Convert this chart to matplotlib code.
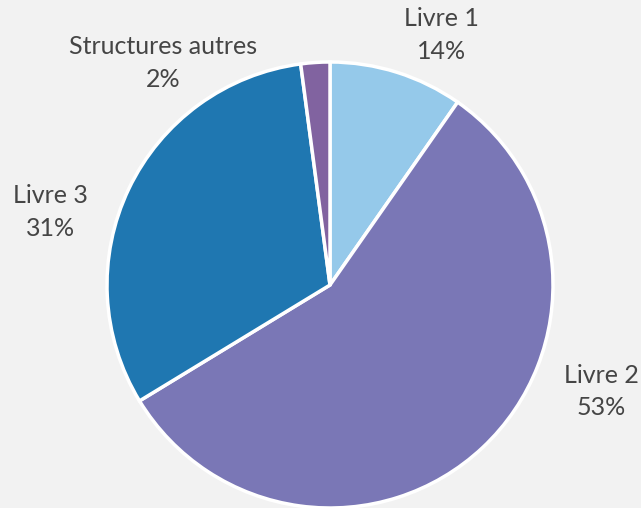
import matplotlib.pyplot as plt

# données (angles des secteurs)
categories = ['Livre 1', 'Livre 2', 'Livre 3', 'Structures autres']
values = [9.7, 56.6, 31.6, 2.1]
pct_labels = ['14%', '53%', '31%', '2%']
colors = ['#95c9ea', '#7a77b6', '#1f77b1', '#8163a0']

# positions des étiquettes (coordonnées des données)
label_pos = [(0.50, 1.12), (1.215, -0.477), (-1.255, 0.328), (-0.75, 0.995)]

plt.rcParams['font.family'] = ['Lato', 'DejaVu Sans']

fig = plt.figure(figsize=(6.41, 5.08), dpi=100)
fig.patch.set_facecolor('#f2f2f2')
ax = fig.add_axes([0, 0, 1, 1])
ax.set_facecolor('#f2f2f2')

ax.pie(values, colors=colors, startangle=90, counterclock=False,
       radius=1.0, center=(0, 0),
       wedgeprops=dict(edgecolor='white', linewidth=2.5))

for cat, pct, (x, y) in zip(categories, pct_labels, label_pos):
    ax.text(x, y, f'{cat}\n{pct}', ha='center', va='center',
            fontsize=18, color='#454545', linespacing=1.5)

ax.set_aspect('equal')
ax.set_xlim(-330 / 223, 311 / 223)
ax.set_ylim(-223 / 223, 285 / 223)
ax.axis('off')

fig.savefig('out.png', dpi=100, facecolor=fig.get_facecolor())
